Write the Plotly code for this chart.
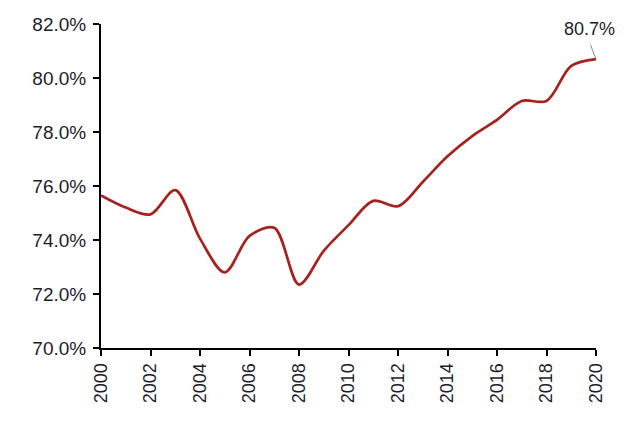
import plotly.graph_objects as go

years = list(range(2000, 2021))
rate = [75.65, 75.2, 74.95, 75.85, 74.05, 72.8, 74.15, 74.45, 72.35, 73.6, 74.55,
        75.45, 75.25, 76.15, 77.1, 77.85, 78.45, 79.15, 79.15, 80.45, 80.7]
y_ticks = [70, 72, 74, 76, 78, 80, 82]
x_ticks = list(range(2000, 2021, 2))
label_text = "80.7%"

FONT = "Liberation Sans, Arial, Helvetica, sans-serif"
TXT = "#1d1d2b"

fig = go.Figure()
fig.add_trace(go.Scatter(
    x=years, y=rate, mode="lines",
    line=dict(color="#a5221e", width=2.7, shape="spline", smoothing=0.9),
    hoverinfo="skip", showlegend=False, cliponaxis=False,
))

fig.add_annotation(
    x=years[-1], y=rate[-1], text=label_text, showarrow=True,
    arrowhead=0, arrowwidth=1, arrowcolor="#888888", standoff=1, startstandoff=4,
    ax=-7, ay=-18, font=dict(size=18, color=TXT, family=FONT),
    yanchor="bottom", xanchor="center",
)

fig.update_layout(
    width=640, height=441,
    margin=dict(l=93, r=52, t=16, b=101, autoexpand=False),
    paper_bgcolor="white", plot_bgcolor="white",
    font=dict(family=FONT, size=18, color=TXT),
    xaxis=dict(
        range=[2000, 2020], tickvals=x_ticks, ticktext=[str(v) for v in x_ticks],
        tickangle=-90, showgrid=False, zeroline=False,
        showline=True, linecolor="black", linewidth=2,
        ticks="outside", ticklen=6, tickwidth=2, tickcolor="black",
    ),
    yaxis=dict(
        range=[70, 82], tickvals=y_ticks,
        ticktext=[f"{v:.1f}%" for v in y_ticks],
        tickfont=dict(size=19),
        ticklabelstandoff=3,
        showgrid=False, zeroline=False,
        showline=True, linecolor="black", linewidth=2,
        ticks="outside", ticklen=6, tickwidth=2, tickcolor="black",
    ),
)

fig.write_html("out.html")
